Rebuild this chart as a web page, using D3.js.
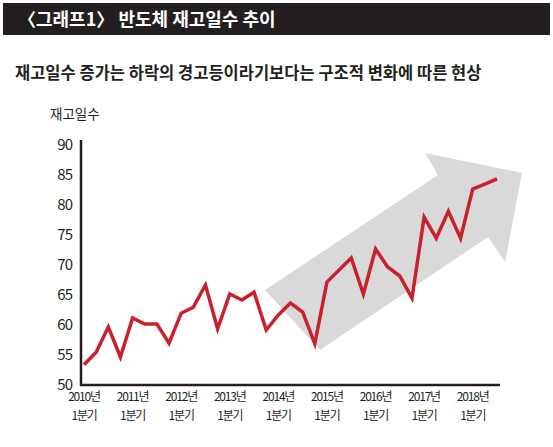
<!DOCTYPE html>
<html><head><meta charset="utf-8">
<script src="https://cdn.jsdelivr.net/npm/d3@7"></script>
<style>body{margin:0;background:#fff}svg{display:block}text{font-family:"Noto Sans CJK KR","Noto Sans",sans-serif}</style>
</head><body>
<script>
const quarters = d3.range(35); // 2010 Q1 .. 2018 Q3
const values = [53.2,55.3,59.5,54.5,61,60,60,56.8,61.8,62.8,66.5,59.2,65,64,65.3,59,61.5,63.5,62,56.7,67,69,71,65,72.5,69.5,68,64.3,77.8,74.3,78.8,74.3,82.5,83.3,84.2];
const yTicks = [50,55,60,65,70,75,80,85,90];
const xTickIdx = [0,4,8,12,16,20,24,28,32];
const xTickYears = ["2010년","2011년","2012년","2013년","2014년","2015년","2016년","2017년","2018년"];

const W=553,H=447;
const svg=d3.select("body").append("svg").attr("width",W).attr("height",H);
svg.append("rect").attr("x",3).attr("y",3).attr("width",547).attr("height",32).attr("fill","#231f20");
svg.append("text").attr("x",18).attr("y",26).attr("fill","#fff").attr("font-size",18).attr("font-weight",700).text("〈그래프1〉 반도체 재고일수 추이");
svg.append("text").attr("x",15).attr("y",79).attr("fill","#231f20").attr("font-size",16.5).attr("font-weight",700).text("재고일수 증가는 하락의 경고등이라기보다는 구조적 변화에 따른 현상");
svg.append("text").attr("x",50).attr("y",119).attr("fill","#231f20").attr("font-size",13.5).text("재고일수");

const x=d3.scaleLinear().domain([0,34]).range([84,497]);
const y=d3.scaleLinear().domain([50,90]).range([384,144]);

// trend arrow (decoration)
svg.append("polygon").attr("points","265,290 438,175 425,153 522,173 505,262 488,237 320,350").attr("fill","#d9d9da");

const g=svg.append("g");
yTicks.forEach(t=>g.append("text").attr("x",72).attr("y",y(t)+6).attr("text-anchor","end").attr("font-size",15).attr("fill","#231f20").attr("letter-spacing",-1).text(t));
g.append("line").attr("x1",81).attr("x2",81).attr("y1",140).attr("y2",386).attr("stroke","#231f20").attr("stroke-width",2.5);
g.append("line").attr("x1",80).attr("x2",500).attr("y1",385).attr("y2",385).attr("stroke","#231f20").attr("stroke-width",2.5);
xTickIdx.forEach((q,i)=>{
  g.append("text").attr("x",x(q)).attr("y",401).attr("text-anchor","middle").attr("font-size",12).attr("letter-spacing",-1.2).attr("fill","#231f20").text(xTickYears[i]);
  g.append("text").attr("x",x(q)).attr("y",420).attr("text-anchor","middle").attr("font-size",12).attr("letter-spacing",-1.2).attr("fill","#231f20").text("1분기");
});
svg.append("path").datum(values).attr("fill","none").attr("stroke","#c8202d").attr("stroke-width",3.5).attr("stroke-linejoin","miter")
  .attr("d",d3.line().x((d,i)=>x(quarters[i])).y(d=>y(d)));
</script>
</body></html>
